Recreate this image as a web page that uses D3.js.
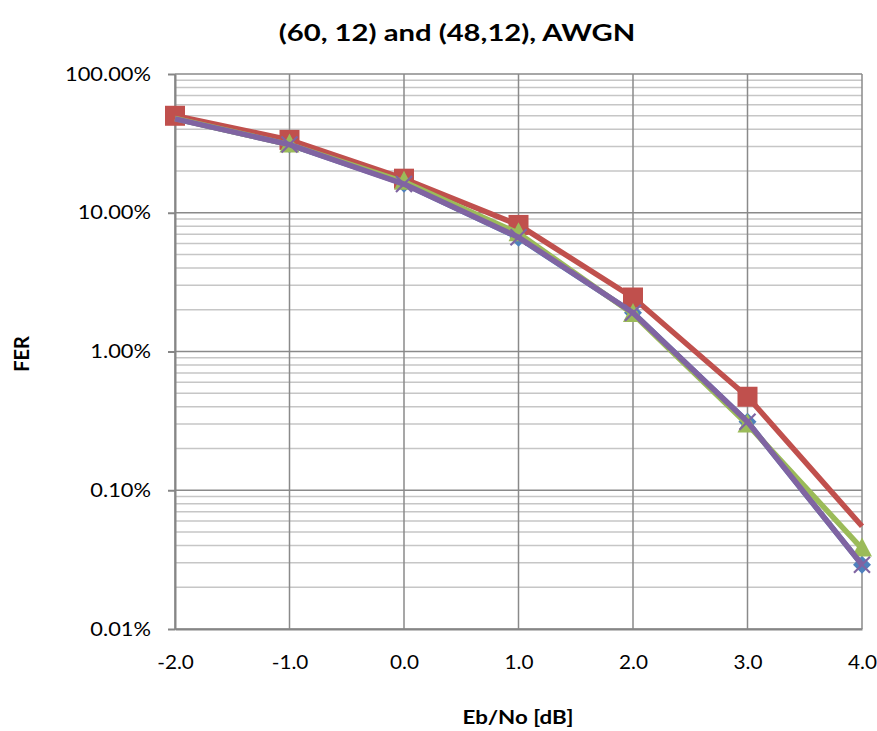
<!DOCTYPE html>
<html>
<head>
<meta charset="utf-8">
<script src="https://cdn.jsdelivr.net/npm/d3@7/dist/d3.min.js"></script>
<style>
  html, body { margin: 0; padding: 0; background: #fff; }
  svg text { font-family: Lato, "Open Sans", sans-serif; fill: #000; }
</style>
</head>
<body>
<svg id="chart" width="877" height="731"></svg>
<script>
// Eb/No sweep points (dB)
const ebno = [-2, -1, 0, 1, 2, 3, 4];

// Frame error rate per code / decoder configuration
const ferBlue   = [0.478, 0.310, 0.162, 0.0660, 0.0190, 0.00312, 0.00029];
const ferRed    = [0.500, 0.335, 0.176, 0.0817, 0.0245, 0.00472, 0.00055];
const ferGreen  = [0.478, 0.310, 0.167, 0.0712, 0.0186, 0.00298, 0.00038];
const ferPurple = [0.475, 0.310, 0.161, 0.0665, 0.0190, 0.00312, 0.00029];

// Axis tick values and labels
const xTicks = [-2, -1, 0, 1, 2, 3, 4];
const yTicks = [1, 0.1, 0.01, 0.001, 0.0001];
const yTickLabels = ["100.00%", "10.00%", "1.00%", "0.10%", "0.01%"];

const titleText = "(60, 12) and (48,12), AWGN";
const xTitle = "Eb/No [dB]";
const yTitle = "FER";

const svg = d3.select("#chart");
const W = 877, H = 731;
const plot = { left: 175, right: 862, top: 74, bottom: 629 };

const x = d3.scaleLinear().domain([-2, 4]).range([plot.left, plot.right]);
const y = d3.scaleLog().domain([0.0001, 1]).range([plot.bottom, plot.top]);

// Widen glyphs horizontally while keeping the anchor point fixed
function widen(sel, s) {
  sel.each(function () {
    const t = d3.select(this);
    const x0 = +t.attr("x") || 0;
    t.attr("x", x0 / s).attr("transform", `scale(${s},1)`);
  });
}

svg.append("rect").attr("width", W).attr("height", H).attr("fill", "#fff");

// Minor horizontal gridlines (2..9 within each decade)
const minor = [];
for (let e = -4; e < 0; e++) {
  for (let m = 2; m <= 9; m++) minor.push(m * Math.pow(10, e));
}
svg.append("g").selectAll("line").data(minor).join("line")
  .attr("x1", plot.left).attr("x2", plot.right)
  .attr("y1", d => y(d)).attr("y2", d => y(d))
  .attr("stroke", "#c6c6c6").attr("stroke-width", 1.5);

// Major horizontal gridlines
svg.append("g").selectAll("line").data(yTicks).join("line")
  .attr("x1", plot.left).attr("x2", plot.right)
  .attr("y1", d => y(d)).attr("y2", d => y(d))
  .attr("stroke", "#8a8a8a").attr("stroke-width", 1.5);

// Vertical gridlines
svg.append("g").selectAll("line").data(xTicks).join("line")
  .attr("x1", d => x(d)).attr("x2", d => x(d))
  .attr("y1", plot.top).attr("y2", plot.bottom)
  .attr("stroke", "#8a8a8a").attr("stroke-width", 1.5);

// Y axis
const yAxis = d3.axisLeft(y).tickValues(yTicks)
  .tickFormat((d, i) => yTickLabels[i]).tickSizeInner(7).tickSizeOuter(0).tickPadding(17);
const gy = svg.append("g").attr("transform", `translate(${plot.left},0)`).call(yAxis);
gy.selectAll("path, line").attr("stroke", "#868686").attr("stroke-width", 2);
gy.selectAll("text").attr("font-size", 19).attr("font-family", "Lato").call(widen, 1.15);

// X axis
const xAxis = d3.axisBottom(x).tickValues(xTicks)
  .tickFormat(d3.format(".1f")).tickSizeInner(0).tickSizeOuter(0).tickPadding(27);
const gx = svg.append("g").attr("transform", `translate(0,${plot.bottom})`).call(xAxis);
gx.selectAll("path, line").attr("stroke", "#868686").attr("stroke-width", 2);
gx.selectAll("text").attr("font-size", 18.5).attr("font-family", "Lato")
  .text(d => d3.format(".1f")(d).replace("−", "-")).call(widen, 1.12);

// Series; "bare" lists point indices drawn without a marker
const series = [
  { values: ferBlue,   color: "#4F81BD", marker: "diamond",  bare: [0] },
  { values: ferRed,    color: "#C0504D", marker: "square",   bare: [6] },
  { values: ferGreen,  color: "#9BBB59", marker: "triangle", bare: [0] },
  { values: ferPurple, color: "#8064A2", marker: "x",        bare: [0] }
];

const line = d3.line().x((d, i) => x(ebno[i])).y(d => y(d));

series.forEach(s => {
  const g = svg.append("g");
  g.append("path").attr("d", line(s.values))
    .attr("fill", "none").attr("stroke", s.color)
    .attr("stroke-width", 5.5).attr("stroke-linejoin", "round");
  const pts = s.values.map((v, i) => ({ v, i })).filter(p => !s.bare.includes(p.i));
  const m = g.selectAll("g.m").data(pts).join("g")
    .attr("transform", p => `translate(${x(ebno[p.i])},${y(p.v)})`);
  if (s.marker === "square") {
    m.append("rect").attr("x", -10).attr("y", -10).attr("width", 20).attr("height", 20)
      .attr("fill", s.color);
  } else if (s.marker === "diamond") {
    m.append("path").attr("d", "M0,-9L9,0L0,9L-9,0Z").attr("fill", s.color);
  } else if (s.marker === "triangle") {
    m.append("path").attr("d", "M0,-11L10,8L-10,8Z").attr("fill", s.color);
  } else {
    m.append("path").attr("d", "M-8,-8L8,8M8,-8L-8,8")
      .attr("stroke", s.color).attr("stroke-width", 2.2).attr("fill", "none");
  }
});

// Titles
svg.append("text").attr("x", 457).attr("y", 41).attr("text-anchor", "middle")
  .attr("font-size", 22.5).attr("font-weight", "bold").text(titleText).call(widen, 1.3);
svg.append("text").attr("x", 518).attr("y", 724).attr("text-anchor", "middle")
  .attr("font-size", 18).attr("font-weight", "bold").text(xTitle).call(widen, 1.24);
svg.append("text").attr("transform", "translate(29,354) rotate(-90)")
  .attr("text-anchor", "middle").attr("font-size", 20).attr("font-weight", "bold").text(yTitle);
</script>
</body>
</html>
